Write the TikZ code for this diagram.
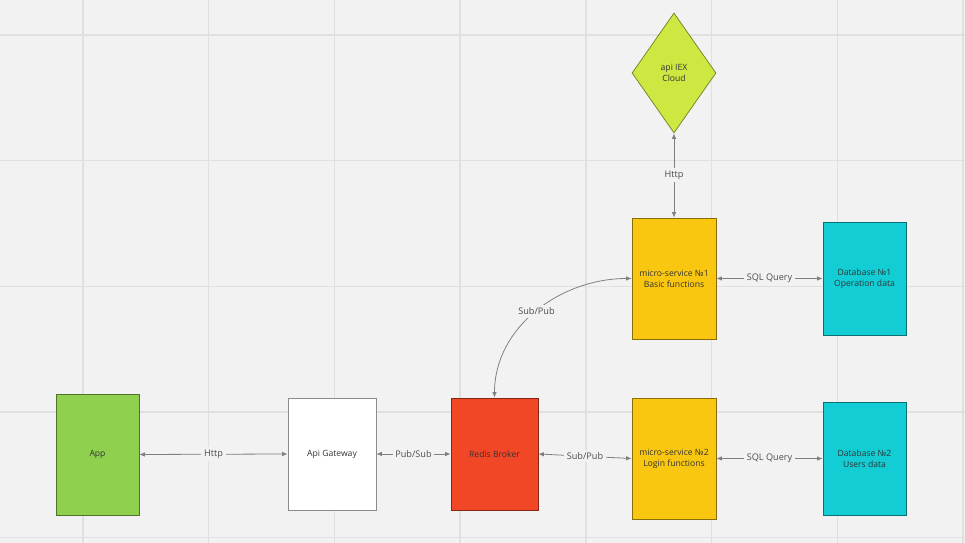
\documentclass[tikz,border=0pt]{standalone}
\usepackage{fontspec}
\setmainfont{Open Sans}
\usetikzlibrary{shapes,positioning,arrows.meta}

\definecolor{fondo}{HTML}{F2F2F2}
\definecolor{rejilla}{HTML}{E0E0E0}
\definecolor{verde}{HTML}{8FD14F}
\definecolor{rojo}{HTML}{F24726}
\definecolor{amarillo}{HTML}{FAC710}
\definecolor{cian}{HTML}{12CDD4}
\definecolor{lima}{HTML}{CEE741}

\begin{document}
\begin{tikzpicture}[x=0.02cm,y=-0.02cm,
  caja/.style={draw=#1!55!black, fill=#1, line width=0.4pt, inner sep=0pt,
    align=center, font=\fontsize{4.9}{6.3}\selectfont, text=black!80},
  flecha/.style={{Latex[length=1.1mm,width=0.9mm]}-{Latex[length=1.1mm,width=0.9mm]},
    draw=black!50, line width=0.45pt},
  etiqueta/.style={fill=fondo, inner sep=1.5pt, font=\fontsize{5.2}{6}\selectfont, text=black!70}]

% Fondo
\useasboundingbox (0,0) rectangle (965,543);
\fill[fondo] (0,0) rectangle (965,543);

% Rejilla
\foreach \i in {0,...,7}
  \draw[rejilla, line width=0.8pt] (83+125.7*\i,0) -- (83+125.7*\i,543);
\foreach \j in {0,...,4}
  \draw[rejilla, line width=0.8pt] (0,35+125.7*\j) -- (965,35+125.7*\j);

% Cliente y gateway
\node[caja=verde, minimum width=1.66cm, minimum height=2.42cm] (app) at (97.5,454.5) {App};
\node[caja=white, draw=black!45, minimum width=1.76cm, minimum height=2.24cm] (gateway) at (332,454) {Api Gateway};

% Broker
\node[caja=rojo, minimum width=1.74cm, minimum height=2.24cm] (redis) at (494.5,454) {Redis Broker};

% Microservicios
\node[caja=amarillo, minimum width=1.68cm, minimum height=2.42cm] (ms1) at (674,278.5) {micro-service №1\\Basic functions};
\node[caja=amarillo, minimum width=1.68cm, minimum height=2.42cm] (ms2) at (674,458.5) {micro-service №2\\Login functions};

% Bases de datos
\node[caja=cian, minimum width=1.66cm, minimum height=2.26cm] (db1) at (864.5,278.5) {Database №1\\Operation data};
\node[caja=cian, minimum width=1.66cm, minimum height=2.26cm] (db2) at (864.5,458.5) {Database №2\\Users data};

% API externa
\node[caja=lima, diamond, minimum width=1.68cm, minimum height=2.4cm] (iex) at (674,73) {api IEX\\Cloud};

% Conexiones
\draw[flecha] (app.east) -- node[etiqueta] {Http} (gateway.west);
\draw[flecha] (gateway.east) -- node[etiqueta] {Pub/Sub} (redis.west);
\draw[flecha] (redis.east) -- node[etiqueta] {Sub/Pub} (ms2.west);
\draw[flecha] (ms2.east) -- node[etiqueta] {SQL Query} (db2.west);
\draw[flecha] (ms1.east) -- node[etiqueta] {SQL Query} (db1.west);
\draw[flecha] (iex.south) -- node[etiqueta] {Http} (ms1.north);
\draw[flecha] (ms1.west) to[out=180,in=90] node[etiqueta] {Sub/Pub} (redis.north);
\end{tikzpicture}
\end{document}
